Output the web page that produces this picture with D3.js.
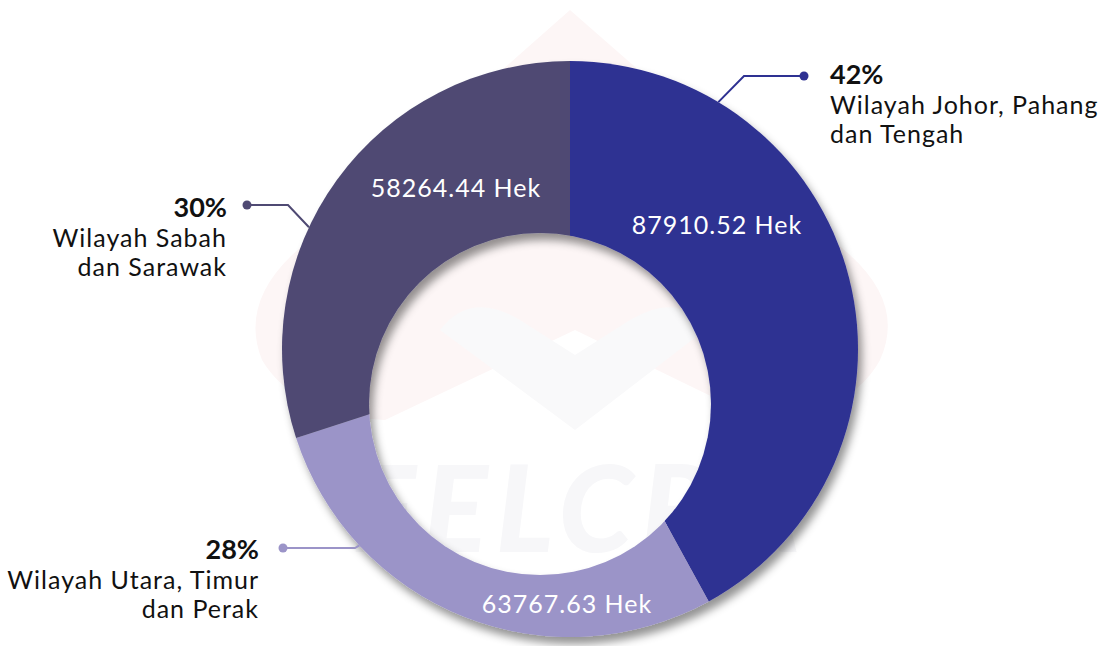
<!DOCTYPE html>
<html>
<head>
<meta charset="utf-8">
<script src="https://cdn.jsdelivr.net/npm/d3@7"></script>
<style>
  html, body { margin: 0; padding: 0; background: #ffffff; }
  svg { display: block; }
  text { font-family: Lato, "Noto Sans", sans-serif; }
</style>
</head>
<body>
<div id="chart"></div>
<script>
// ---- data ----
const regions = ["Wilayah Johor, Pahang dan Tengah", "Wilayah Utara, Timur dan Perak", "Wilayah Sabah dan Sarawak"];
const labelLines = [["Wilayah Johor, Pahang", "dan Tengah"], ["Wilayah Utara, Timur", "dan Perak"], ["Wilayah Sabah", "dan Sarawak"]];
const percents = [42, 28, 30];
const hectares = [87910.52, 63767.63, 58264.44];
const colors = ["#2e3192", "#9b94c8", "#4f4a73"];

// ---- layout ----
const W = 1110, H = 646;
const cx = 570, cy = 349, R = 288;
const hole = { x: 540, y: 404, r: 171 };

const svg = d3.select("#chart").append("svg").attr("width", W).attr("height", H);
const defs = svg.append("defs");

const f = defs.append("filter").attr("id", "shadow").attr("x", "-20%").attr("y", "-20%").attr("width", "140%").attr("height", "140%");
f.append("feDropShadow").attr("dx", 4).attr("dy", 7).attr("stdDeviation", 4.5)
  .attr("flood-color", "#000").attr("flood-opacity", 0.42);

const mask = defs.append("mask").attr("id", "holeMask").attr("maskUnits", "userSpaceOnUse")
  .attr("x", 0).attr("y", 0).attr("width", W).attr("height", H);
mask.append("rect").attr("width", W).attr("height", H).attr("fill", "#fff");
mask.append("circle").attr("cx", hole.x).attr("cy", hole.y).attr("r", hole.r).attr("fill", "#000");

// ---- faint watermark ----
const wm = svg.append("g");
wm.append("path")
  .attr("d", "M570,10 L850,255 Q905,305 880,360 Q850,415 760,420 L575,330 L385,420 Q295,415 262,360 Q240,305 292,255 Z")
  .attr("fill", "#fdf6f6");
wm.append("path")
  .attr("d", "M440,330 Q470,290 520,320 L575,355 L630,320 Q680,290 705,330 L575,430 Z")
  .attr("fill", "#f9f9fa");
wm.append("text").attr("x", 580).attr("y", 552).attr("text-anchor", "middle")
  .attr("font-size", 120).attr("font-weight", 900).attr("font-style", "italic")
  .attr("letter-spacing", 8).attr("fill", "#f7f7f9").text("FELCRA");

// ---- donut ----
const pie = d3.pie().sort(null).value(d => d);
const arcs = pie(percents);
const arc = d3.arc().innerRadius(0).outerRadius(R);

const ring = svg.append("g").attr("filter", "url(#shadow)")
  .append("g").attr("mask", "url(#holeMask)")
  .append("g").attr("transform", `translate(${cx},${cy})`);
ring.selectAll("path").data(arcs).join("path")
  .attr("d", arc).attr("fill", (d, i) => colors[i]);

// value labels inside the ring
const fmt = d3.format(".2f");
const valuePos = [[717, 234], [567, 613], [456, 197]];
svg.append("g").selectAll("text").data(hectares).join("text")
  .attr("x", (d, i) => valuePos[i][0]).attr("y", (d, i) => valuePos[i][1])
  .attr("text-anchor", "middle").attr("fill", "#ffffff").attr("font-size", 25)
  .attr("letter-spacing", 1)
  .text(d => fmt(d) + " Hek");

// ---- leaders and callouts ----
const leaders = [
  { a: 31, elbow: [744, 76], dot: [804, 76], tx: 830, anchor: "start", base: 84 },
  { a: 227, elbow: [355, 548], dot: [283, 548], tx: 259, anchor: "end", base: 559 },
  { a: 295, elbow: [288, 205], dot: [247, 205], tx: 227, anchor: "end", base: 217 }
];
const lg = svg.append("g");
leaders.forEach((l, i) => {
  const rad = l.a * Math.PI / 180;
  const p0 = [cx + R * Math.sin(rad), cy - R * Math.cos(rad)];
  lg.append("path")
    .attr("d", d3.line()([p0, l.elbow, l.dot]))
    .attr("fill", "none").attr("stroke", colors[i]).attr("stroke-width", 2);
  lg.append("circle").attr("cx", l.dot[0]).attr("cy", l.dot[1]).attr("r", 4.5).attr("fill", colors[i]);
  const t = lg.append("text").attr("text-anchor", l.anchor).attr("fill", "#111");
  t.append("tspan").attr("x", l.tx).attr("y", l.base).attr("font-size", 27).attr("font-weight", 700)
    .text(percents[i] + "%");
  labelLines[i].forEach((s, k) => {
    t.append("tspan").attr("x", l.tx).attr("y", l.base + 30 + k * 29).attr("font-size", 25)
      .attr("letter-spacing", 1).text(s);
  });
});
</script>
</body>
</html>
